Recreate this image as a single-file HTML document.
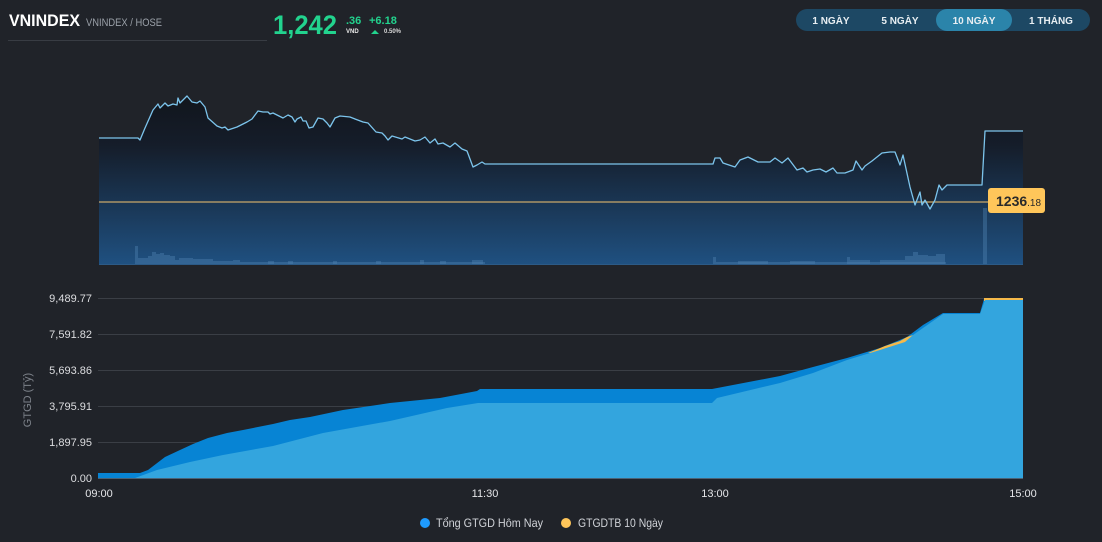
<!DOCTYPE html>
<html><head><meta charset="utf-8"><style>
html,body{margin:0;padding:0;background:#202329;}
body{width:1102px;height:542px;overflow:hidden;position:relative;font-family:"Liberation Sans",sans-serif;}
svg{position:absolute;left:0;top:0;}
</style></head><body>
<svg width="1102" height="542" viewBox="0 0 1102 542" xmlns="http://www.w3.org/2000/svg">
<defs>
<linearGradient id="g1" gradientUnits="userSpaceOnUse" x1="0" y1="95" x2="0" y2="264">
<stop offset="0" stop-color="#11151c"/>
<stop offset="0.3" stop-color="#151d2a"/>
<stop offset="1" stop-color="#1f5080"/>
</linearGradient>
</defs>
<rect width="1102" height="542" fill="#202329"/>

<!-- header -->
<text x="9" y="26" font-size="17" font-weight="bold" fill="#ffffff" textLength="71" lengthAdjust="spacingAndGlyphs">VNINDEX</text>
<text x="86" y="26" font-size="11" fill="#9aa0a8" textLength="76" lengthAdjust="spacingAndGlyphs">VNINDEX / HOSE</text>
<line x1="8" y1="40.5" x2="267" y2="40.5" stroke="#383c43" stroke-width="1"/>
<text x="273" y="34" font-size="27" font-weight="bold" fill="#22d38e" textLength="64" lengthAdjust="spacingAndGlyphs">1,242</text>
<text x="346" y="24" font-size="11" font-weight="bold" fill="#22d38e">.36</text>
<text x="346" y="33" font-size="6" font-weight="bold" fill="#e8e8e8">VND</text>
<text x="369" y="24" font-size="11" font-weight="bold" fill="#22d38e">+6.18</text>
<polygon points="371,34 375,30 379,34" fill="#22d38e"/>
<text x="384" y="33" font-size="6" font-weight="bold" fill="#d8d8d8">0.50%</text>

<!-- buttons -->
<rect x="796" y="9" width="294" height="22" rx="11" fill="#1d4864"/>
<rect x="936" y="9" width="76" height="22" rx="11" fill="#2b84aa"/>
<g font-size="10" font-weight="bold" fill="#e8eef2" text-anchor="middle">
<text x="831" y="24">1 NGÀY</text>
<text x="900" y="24">5 NGÀY</text>
<text x="974" y="24">10 NGÀY</text>
<text x="1051" y="24">1 THÁNG</text>
</g>

<!-- top chart area -->
<polygon fill="url(#g1)" points="99,138 138,138 140,140 145,128 153,110 158,104 160,108 165,103 168,106 173,104 177,105 178,98 180,103 187,96 192,102 197,103 200,101 205,107 208,118 217,126 222,128 225,127 228,130 237,127 247,122 252,119 258,111 263,112 268,112 270,114 273,113 283,118 288,115 292,117 295,122 297,119 301,117 303,121 306,121 309,128 313,127 318,118 323,119 327,123 330,127 335,118 340,116 350,117 355,119 363,122 368,123 376,132 382,133 385,136 388,140 392,136 402,139 405,137 415,141 420,140 425,137 430,143 435,139 438,144 443,143 450,147 455,143 462,149 467,151 473,167 477,165 482,162 485,164 713,164 715,158 720,158 723,163 735,167 740,160 748,157 758,162 770,162 775,158 782,163 788,158 797,170 803,168 807,172 813,170 820,169 826,172 833,168 837,173 845,173 853,170 856,161 862,170 865,166 872,161 882,153 890,152 895,152 900,165 903,155 910,187 915,205 920,192 922,205 925,200 930,209 935,200 939,185 942,190 947,185 982,185 985,131 1023,131 1023,264 99,264"/>

<!-- volume bars -->
<g fill="#4b7fae" fill-opacity="0.45">
<rect x="135" y="246" width="3" height="18"/>
<rect x="138" y="258" width="10" height="6"/>
<rect x="148" y="256" width="4" height="8"/>
<rect x="152" y="252" width="4" height="12"/>
<rect x="156" y="254" width="4" height="10"/>
<rect x="160" y="253" width="4" height="11"/>
<rect x="164" y="255" width="6" height="9"/>
<rect x="170" y="256" width="5" height="8"/>
<rect x="175" y="260" width="4" height="4"/>
<rect x="179" y="258" width="14" height="6"/>
<rect x="193" y="259" width="20" height="5"/>
<rect x="213" y="261" width="20" height="3"/>
<rect x="233" y="260" width="7" height="4"/>
<rect x="240" y="262" width="245" height="2"/>
<rect x="268" y="261" width="6" height="3"/>
<rect x="288" y="261" width="5" height="3"/>
<rect x="333" y="261" width="4" height="3"/>
<rect x="376" y="261" width="5" height="3"/>
<rect x="420" y="260" width="4" height="4"/>
<rect x="440" y="261" width="6" height="3"/>
<rect x="472" y="260" width="11" height="4"/>
<rect x="713" y="257" width="3" height="7"/>
<rect x="716" y="262" width="230" height="2"/>
<rect x="738" y="261" width="30" height="3"/>
<rect x="790" y="261" width="25" height="3"/>
<rect x="847" y="257" width="3" height="7"/>
<rect x="850" y="260" width="20" height="4"/>
<rect x="880" y="260" width="25" height="4"/>
<rect x="905" y="256" width="8" height="8"/>
<rect x="913" y="252" width="5" height="12"/>
<rect x="918" y="255" width="10" height="9"/>
<rect x="928" y="256" width="8" height="8"/>
<rect x="936" y="254" width="9" height="10"/>
<rect x="983" y="208" width="4" height="56"/>
</g>
<line x1="99" y1="264.5" x2="1023" y2="264.5" stroke="#2c5a86" stroke-width="1"/>

<!-- reference line -->
<line x1="99" y1="202" x2="988" y2="202" stroke="#c9a86a" stroke-width="1.2"/>

<!-- price line -->
<polyline fill="none" stroke="#7cc4ec" stroke-width="1.3" stroke-linejoin="round" points="99,138 138,138 140,140 145,128 153,110 158,104 160,108 165,103 168,106 173,104 177,105 178,98 180,103 187,96 192,102 197,103 200,101 205,107 208,118 217,126 222,128 225,127 228,130 237,127 247,122 252,119 258,111 263,112 268,112 270,114 273,113 283,118 288,115 292,117 295,122 297,119 301,117 303,121 306,121 309,128 313,127 318,118 323,119 327,123 330,127 335,118 340,116 350,117 355,119 363,122 368,123 376,132 382,133 385,136 388,140 392,136 402,139 405,137 415,141 420,140 425,137 430,143 435,139 438,144 443,143 450,147 455,143 462,149 467,151 473,167 477,165 482,162 485,164 713,164 715,158 720,158 723,163 735,167 740,160 748,157 758,162 770,162 775,158 782,163 788,158 797,170 803,168 807,172 813,170 820,169 826,172 833,168 837,173 845,173 853,170 856,161 862,170 865,166 872,161 882,153 890,152 895,152 900,165 903,155 910,187 915,205 920,192 922,205 925,200 930,209 935,200 939,185 942,190 947,185 982,185 985,131 1023,131"/>

<!-- price label -->
<rect x="988" y="188" width="57" height="25" rx="3" fill="#ffc65a"/>
<text x="996" y="206" font-size="14" font-weight="bold" fill="#2a2a2a">1236<tspan font-size="10" font-weight="normal">.18</tspan></text>

<!-- lower chart grid -->
<g stroke="#3a3e45" stroke-width="1">
<line x1="98" y1="298.5" x2="1023" y2="298.5"/>
<line x1="98" y1="334.5" x2="1023" y2="334.5"/>
<line x1="98" y1="370.5" x2="1023" y2="370.5"/>
<line x1="98" y1="406.5" x2="1023" y2="406.5"/>
<line x1="98" y1="442.5" x2="1023" y2="442.5"/>
</g>
<g font-size="11" fill="#dcdde0" text-anchor="end">
<text x="92" y="302">9,489.77</text>
<text x="92" y="338">7,591.82</text>
<text x="92" y="374">5,693.86</text>
<text x="92" y="410">3,795.91</text>
<text x="92" y="446">1,897.95</text>
<text x="92" y="482">0.00</text>
</g>
<text transform="translate(31,400) rotate(-90)" font-size="11" fill="#7d828a" text-anchor="middle">GTGD (Tỷ)</text>

<!-- areas -->
<polygon fill="#0784d4" points="98,473 140,473 148,470 165,457 180,450 193,444 208,438 227,433 243,430 273,424 290,420 310,417 343,410 390,403 440,398 477,391 480,389 712,389 780,376 813,367 847,358 880,348 907,337 923,325 943,313 980,313 984,299 1023,299 1023,478 98,478"/>
<polygon fill="#f5b94a" points="868,353 885,346 900,341 907,337 913,335 906,342 890,349 875,353"/>
<polygon fill="#f5b94a" points="984,298 1023,298 1023,301 984,301"/>
<polygon fill="#33a5de" points="98,478 135,478 157,470 190,462 223,455 273,446 323,433 390,421 447,408 478,403 712,403 717,398 780,383 813,373 847,360 880,350 905,342 913,335 943,314 980,314 985,300 1023,300 1023,478"/>
<line x1="98" y1="478.5" x2="1023" y2="478.5" stroke="#4a6275" stroke-width="1"/>

<g font-size="11" fill="#e4e5e8" text-anchor="middle">
<text x="99" y="497">09:00</text>
<text x="485" y="497">11:30</text>
<text x="715" y="497">13:00</text>
<text x="1023" y="497">15:00</text>
</g>

<!-- legend -->
<circle cx="425" cy="523" r="5" fill="#1e9bff"/>
<text x="436" y="527" font-size="12" fill="#d0d3d8" textLength="107" lengthAdjust="spacingAndGlyphs">Tổng GTGD Hôm Nay</text>
<circle cx="566" cy="523" r="5" fill="#ffc65a"/>
<text x="578" y="527" font-size="12" fill="#d0d3d8" textLength="85" lengthAdjust="spacingAndGlyphs">GTGDTB 10 Ngày</text>
</svg>
</body></html>
